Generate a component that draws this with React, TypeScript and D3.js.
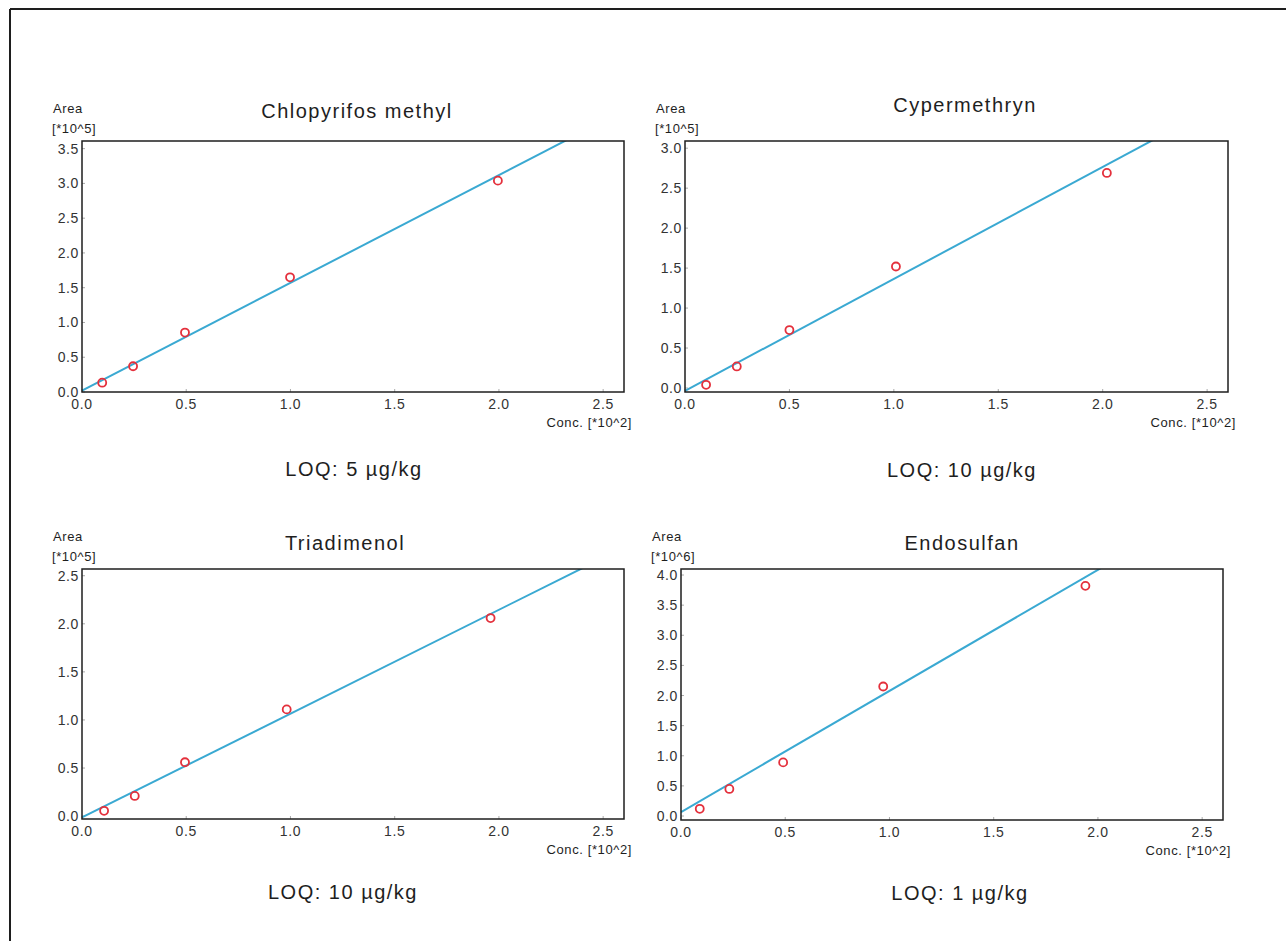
import React, { useEffect, useRef } from 'react';
import * as d3 from 'd3';

// calibration curves, 4 pesticides
const titles = ['Chlopyrifos methyl', 'Cypermethryn', 'Triadimenol', 'Endosulfan'];
const loqLabels = ['LOQ: 5 µg/kg', 'LOQ: 10 µg/kg', 'LOQ: 10 µg/kg', 'LOQ: 1 µg/kg'];
const yUnits = ['[*10^5]', '[*10^5]', '[*10^5]', '[*10^6]'];
const xTicks = [0, 0.5, 1.0, 1.5, 2.0, 2.5];
const yTicks = [
  [0, 0.5, 1.0, 1.5, 2.0, 2.5, 3.0, 3.5],
  [0, 0.5, 1.0, 1.5, 2.0, 2.5, 3.0],
  [0, 0.5, 1.0, 1.5, 2.0, 2.5],
  [0, 0.5, 1.0, 1.5, 2.0, 2.5, 3.0, 3.5, 4.0],
];

// measured points (conc *10^2, area)
const concChlorpyrifos = [0.097, 0.245, 0.494, 0.998, 1.995];
const areaChlorpyrifos = [0.134, 0.37, 0.855, 1.65, 3.04];
const concCypermethrin = [0.101, 0.248, 0.5, 1.01, 2.02];
const areaCypermethrin = [0.04, 0.27, 0.725, 1.52, 2.69];
const concTriadimenol = [0.106, 0.253, 0.494, 0.982, 1.96];
const areaTriadimenol = [0.055, 0.21, 0.56, 1.11, 2.06];
const concEndosulfan = [0.09, 0.232, 0.49, 0.97, 1.94];
const areaEndosulfan = [0.12, 0.45, 0.89, 2.15, 3.82];

// fitted line y = a*x + b
const fitSlopes = [1.55, 1.4, 1.08, 2.01];
const fitIntercepts = [0.02, -0.035, -0.014, 0.066];

const concs = [concChlorpyrifos, concCypermethrin, concTriadimenol, concEndosulfan];
const areas = [areaChlorpyrifos, areaCypermethrin, areaTriadimenol, areaEndosulfan];

// layout of each panel (pixels) + axis domains
const panels = [
  { left: 82, right: 624, top: 141, bottom: 392, yDom: [0, 3.61], titleX: 357, titleY: 118, loqX: 354, loqY: 476 },
  { left: 685, right: 1228, top: 141, bottom: 392, yDom: [-0.05, 3.09], titleX: 965, titleY: 112, loqX: 962, loqY: 477 },
  { left: 82, right: 624, top: 569, bottom: 819, yDom: [-0.03, 2.57], titleX: 345, titleY: 550, loqX: 343, loqY: 899 },
  { left: 681, right: 1223, top: 569, bottom: 820, yDom: [-0.066, 4.1], titleX: 962, titleY: 550, loqX: 960, loqY: 900 },
];

const FONT = '"Liberation Sans", Arial, Helvetica, sans-serif';
const INK = '#1e1e1e';

function App() {
  const ref = useRef<SVGSVGElement>(null);

  useEffect(() => {
    const svg = d3.select(ref.current);
    svg.selectAll('*').remove();

    // marco exterior (solo arriba e izquierda)
    svg.append('line').attr('x1', 10).attr('y1', 9).attr('x2', 1286).attr('y2', 9)
      .attr('stroke', INK).attr('stroke-width', 2);
    svg.append('line').attr('x1', 10).attr('y1', 9).attr('x2', 10).attr('y2', 941)
      .attr('stroke', INK).attr('stroke-width', 2);

    panels.forEach((p, i) => {
      const x = d3.scaleLinear().domain([0, 2.6]).range([p.left, p.right]);
      const y = d3.scaleLinear().domain(p.yDom).range([p.bottom, p.top]);
      const g = svg.append('g');

      const clipId = 'clip' + i;
      g.append('clipPath').attr('id', clipId).append('rect')
        .attr('x', p.left).attr('y', p.top)
        .attr('width', p.right - p.left).attr('height', p.bottom - p.top);

      // tick marks (tiny, inside the frame)
      g.selectAll('.yt').data(yTicks[i]).enter().append('line')
        .attr('x1', p.left).attr('x2', p.left + 3)
        .attr('y1', (d) => y(d)).attr('y2', (d) => y(d))
        .attr('stroke', '#aaa').attr('stroke-width', 1);
      g.selectAll('.xt').data(xTicks).enter().append('line')
        .attr('x1', (d) => x(d)).attr('x2', (d) => x(d))
        .attr('y1', p.bottom).attr('y2', p.bottom - 3)
        .attr('stroke', '#aaa').attr('stroke-width', 1);

      // fit line
      const line = d3.line<number>().x((d) => x(d)).y((d) => y(fitSlopes[i] * d + fitIntercepts[i]));
      g.append('path').datum([0, 2.6]).attr('d', line)
        .attr('clip-path', `url(#${clipId})`)
        .attr('fill', 'none').attr('stroke', '#3aa9d2').attr('stroke-width', 2);

      // points
      g.selectAll('circle').data(concs[i]).enter().append('circle')
        .attr('cx', (d) => x(d)).attr('cy', (d, j) => y(areas[i][j]))
        .attr('r', 4).attr('fill', 'none').attr('stroke', '#e4303c').attr('stroke-width', 1.8);

      // frame
      g.append('rect').attr('x', p.left).attr('y', p.top)
        .attr('width', p.right - p.left).attr('height', p.bottom - p.top)
        .attr('fill', 'none').attr('stroke', INK).attr('stroke-width', 1.5);

      // tick labels
      g.selectAll('.yl').data(yTicks[i]).enter().append('text')
        .attr('x', p.left - 3).attr('y', (d) => y(d) + 5)
        .attr('text-anchor', 'end')
        .style('font-family', FONT).style('font-size', '14px').style('letter-spacing', '0.6px')
        .attr('fill', '#333').text((d) => d3.format('.1f')(d));
      g.selectAll('.xl').data(xTicks).enter().append('text')
        .attr('x', (d) => x(d)).attr('y', p.bottom + 17)
        .attr('text-anchor', 'middle')
        .style('font-family', FONT).style('font-size', '14px').style('letter-spacing', '0.6px')
        .attr('fill', '#333').text((d) => d3.format('.1f')(d));

      // axis names
      const small = (tx: number, ty: number, s: string, anchor: string) =>
        g.append('text').attr('x', tx).attr('y', ty).attr('text-anchor', anchor)
          .style('font-family', FONT).style('font-size', '13px').style('letter-spacing', '0.6px')
          .attr('fill', INK).text(s);
      small(p.left - 29, p.top - 28, 'Area', 'start');
      small(p.left - 30, p.top - 8, yUnits[i], 'start');
      small(p.right + 8, p.bottom + 35, 'Conc. [*10^2]', 'end');

      // title and LOQ
      g.append('text').attr('x', p.titleX).attr('y', p.titleY).attr('text-anchor', 'middle')
        .style('font-family', FONT).style('font-size', '20px').style('letter-spacing', '1.5px')
        .attr('fill', INK).text(titles[i]);
      g.append('text').attr('x', p.loqX).attr('y', p.loqY).attr('text-anchor', 'middle')
        .style('font-family', FONT).style('font-size', '20px').style('letter-spacing', '1.5px')
        .attr('fill', INK).text(loqLabels[i]);
    });
  }, []);

  return (
    <div style={{ position: 'absolute', left: 0, top: 0 }}>
      <svg ref={ref} width={1286} height={941} style={{ display: 'block', background: '#fff' }} />
    </div>
  );
}

export default App;
